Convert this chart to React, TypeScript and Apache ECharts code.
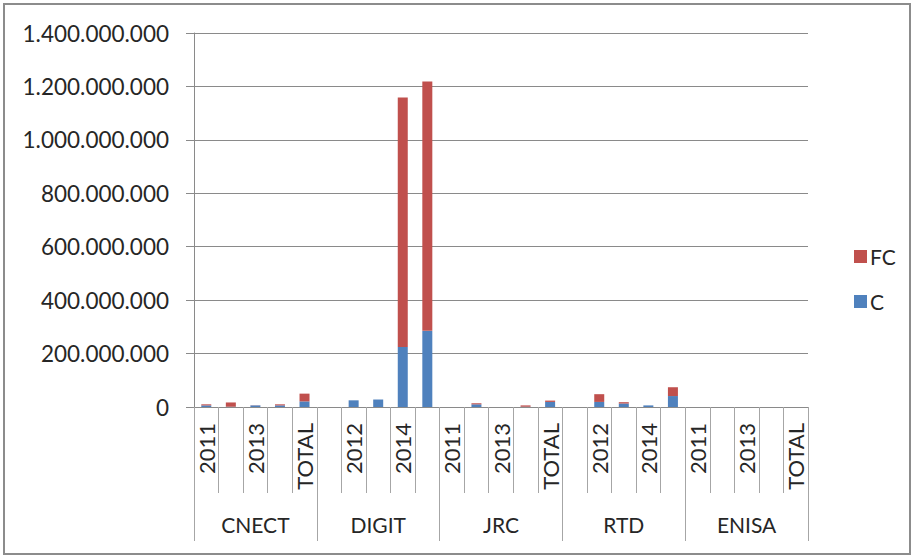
import React, { useEffect, useRef } from "react";
import * as echarts from "echarts";

const groups = ["CNECT", "DIGIT", "JRC", "RTD", "ENISA"];
const years = ["2011", "2012", "2013", "2014", "TOTAL"];

// values in millions
const cValues = [
  6, 1, 6, 6, 21,
  0, 25, 28, 225, 285,
  0, 10, 0, 1, 19,
  0, 19, 13, 6, 41,
  0, 0, 0, 0, 0,
];
const fcValues = [
  4, 16, 0.5, 4, 29,
  0, 0, 0, 934, 933,
  0, 4, 0, 5, 5,
  0, 29, 5, 0, 33,
  0, 0, 0, 0, 0,
];

const yTicks = { min: 0, max: 1400000000, interval: 200000000 };

const categories: string[] = [];
groups.forEach(() => years.forEach((y) => categories.push(y)));

const fmt = (v: number) => String(Math.round(v)).replace(/\B(?=(\d{3})+(?!\d))/g, ".");

export default function App() {
  const ref = useRef<HTMLDivElement>(null);
  useEffect(() => {
    if (!ref.current) return;
    const chart = echarts.init(ref.current, null, { renderer: "svg" });
    const font = "Lato";
    const txt = "#262626";
    const gray = "#8a8a8a";
    chart.setOption({
      animation: false,
      textStyle: { fontFamily: font },
      grid: { left: 194, top: 33, right: 105, bottom: 149, containLabel: false },
      legend: {
        orient: "vertical",
        left: 849,
        top: 241,
        itemWidth: 13,
        itemHeight: 13,
        itemGap: 24,
        icon: "rect",
        data: ["FC", "C"],
        textStyle: { fontFamily: font, fontSize: 21, color: txt, padding: [0, 0, 0, -2] },
      },
      xAxis: [
        {
          type: "category",
          data: categories,
          gridIndex: 0,
          position: "bottom",
          axisLine: { show: true, lineStyle: { color: gray, width: 1 } },
          axisTick: { show: true, interval: 0, length: 86, lineStyle: { color: "#a6a6a6" } },
          axisLabel: {
            interval: 1,
            rotate: 90,
            margin: 16,
            fontFamily: font,
            fontSize: 22,
            color: txt,
          },
        },
        {
          type: "category",
          data: groups,
          gridIndex: 0,
          position: "bottom",
          axisLine: { show: false },
          axisTick: { show: true, interval: 0, length: 134, lineStyle: { color: "#a6a6a6" } },
          axisLabel: { interval: 0, margin: 107, fontFamily: font, fontSize: 21, color: txt },
        },
      ],
      yAxis: {
        type: "value",
        min: yTicks.min,
        max: yTicks.max,
        interval: yTicks.interval,
        axisLine: { show: true, lineStyle: { color: gray } },
        axisTick: { show: true, length: 8, lineStyle: { color: gray } },
        splitLine: { show: true, lineStyle: { color: gray } },
        axisLabel: { margin: 25, fontFamily: font, fontSize: 22.5, color: txt, formatter: (v: number) => fmt(v) },
      },
      series: [
        {
          name: "C",
          type: "bar",
          stack: "total",
          xAxisIndex: 0,
          barWidth: 10,
          itemStyle: { color: "#4F81BD" },
          data: cValues.map((v) => v * 1e6),
        },
        {
          name: "FC",
          type: "bar",
          stack: "total",
          xAxisIndex: 0,
          barWidth: 10,
          itemStyle: { color: "#C0504D" },
          data: fcValues.map((v) => v * 1e6),
        },
      ],
      graphic: [
        {
          type: "rect",
          shape: { x: 4, y: 4, width: 906, height: 550 },
          style: { fill: "none", stroke: "#8c8c8c", lineWidth: 2 },
          silent: true,
        },
      ],
    });
    return () => chart.dispose();
  }, []);
  return (
    <div
      ref={ref}
      style={{ position: "fixed", left: 0, top: 0, width: 913, height: 556, background: "#fff" }}
    />
  );
}
